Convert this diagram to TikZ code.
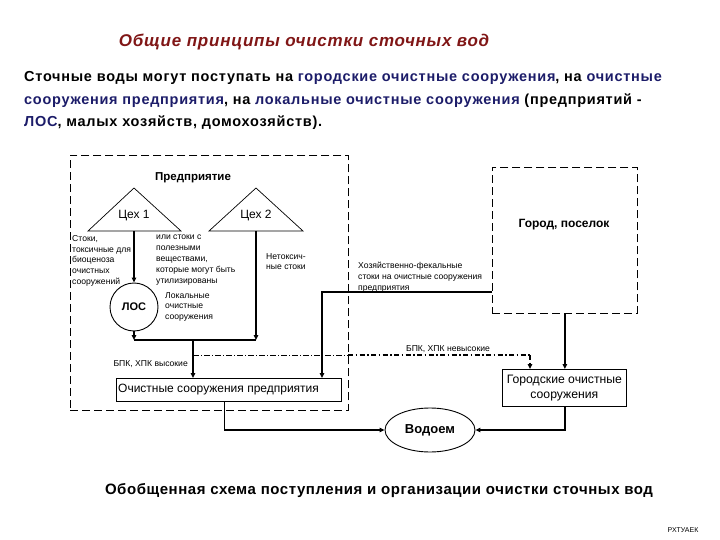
\documentclass[tikz,border=0pt]{standalone}
\usepackage{fontspec}
\setmainfont{Liberation Sans}
\usetikzlibrary{shapes.geometric,arrows.meta}
\definecolor{titlered}{RGB}{128,22,22}
\definecolor{navy}{RGB}{28,28,105}
\begin{document}
\begin{tikzpicture}[x=1pt,y=-1pt,
  small/.style={font=\fontsize{8.6}{10.8}\selectfont, align=left, inner sep=0pt},
  flow/.style={line width=1.6pt, -{Triangle[length=5pt,width=4.5pt]}},
  plain/.style={line width=1.6pt},
  box/.style={draw, line width=0.7pt},
  dashedbox/.style={draw, line width=0.8pt, dash pattern=on 8pt off 4pt, inner sep=0pt},
  label/.style={font=\fontsize{12}{14}\selectfont}]
\useasboundingbox (0,0) rectangle (720,540);

% title and paragraph
\node[font=\bfseries\itshape\fontsize{17}{20}\selectfont\addfontfeature{LetterSpace=4.5}, text=titlered] (title) at (304,42) {Общие принципы очистки сточных вод};
\begin{scope}[every node/.style={anchor=west, inner sep=0pt, font=\bfseries\fontsize{14.5}{17}\selectfont\addfontfeature{LetterSpace=5}}]
\node (p1) at (24,78) {Сточные воды могут поступать на \textcolor{navy}{городские очистные сооружения}, на \textcolor{navy}{очистные}};
\node (p2) at (24,101) {\textcolor{navy}{сооружения предприятия}, на \textcolor{navy}{локальные очистные сооружения} (предприятий -};
\node (p3) at (24,123) {\textcolor{navy}{ЛОС}, малых хозяйств, домохозяйств).};
\end{scope}

% enterprise
\node[dashedbox, anchor=north west, minimum width=278pt, minimum height=255pt] (ent) at (70,155) {};
\node[font=\bfseries\fontsize{11.5}{13}\selectfont] (entl) at (193,178) {Предприятие};
\draw[box] (88,231) -- (134,188) -- (181,231) -- cycle;
\node[label] (ceh1) at (134,216) {Цех 1};
\coordinate (ceh1b) at (134,231);
\draw[box] (209,231) -- (256,188) -- (303,231) -- cycle;
\node[label] (ceh2) at (256,216) {Цех 2};
\coordinate (ceh2b) at (256,231);
\node[draw, circle, line width=0.9pt, minimum size=48pt, inner sep=0pt, font=\bfseries\fontsize{11}{13}\selectfont] (los) at (134,307) {ЛОС};

\node[small, anchor=north west] (t1) at (72,235) {Стоки,\\токсичные для\\биоценоза\\очистных\\сооружений};
\node[small, anchor=north west] (t2) at (156,235) {или стоки с\\полезными\\веществами,\\которые могут быть\\утилизированы};
\node[small, anchor=north west] (t3) at (266,253) {Нетоксич-\\ные стоки};
\node[small, anchor=north west] (t4) at (165,292) {Локальные\\очистные\\сооружения};
\node[small, anchor=north west] (t5) at (358,262) {Хозяйственно-фекальные\\стоки на очистные сооружения\\предприятия};

% city
\node[dashedbox, anchor=north west, minimum width=145pt, minimum height=146pt] (gorod) at (492,167) {};
\node[font=\bfseries\fontsize{12}{14}\selectfont] (gorodl) at (564,225) {Город, поселок};

% treatment boxes
\node[box, anchor=north west, minimum width=225pt, minimum height=23pt, inner sep=0pt] (ocp) at (116,378) {};
\node[font=\fontsize{12}{14}\selectfont, anchor=west, inner sep=0pt] (ocpl) at (118,389.5) {Очистные сооружения предприятия};
\node[box, anchor=north west, minimum width=124pt, minimum height=37pt, inner sep=0pt, align=center, font=\fontsize{12.2}{14.5}\selectfont] (gos) at (502,369) {Городские очистные\\сооружения};
\node[draw, ellipse, line width=0.9pt, minimum width=90pt, minimum height=44pt, inner sep=0pt, font=\bfseries\fontsize{13}{15}\selectfont] (vod) at (430,430) {Водоем};

% connectors
\coordinate (j1) at (134,340);
\coordinate (j2) at (256,340);
\coordinate (jm) at (193,340);
\draw[flow] (ceh1b) -- (los.north);
\draw[flow] (los.south) -- (j1);
\draw[flow] (ceh2b) -- (j2);
\draw[plain] (j1) -- (j2);
\draw[flow] (jm) -- (jm |- ocp.north);
\node[small, anchor=east] (bpk1) at (188,364) {БПК, ХПК высокие};

\coordinate (hf) at (492,292);
\coordinate (hfx) at (322,292);
\draw[flow] (hf) -- (hfx) -- (hfx |- ocp.north);

\coordinate (dd1) at (193,355);
\coordinate (dd2) at (348,355);
\coordinate (dd3) at (530,355);
\draw[line width=0.7pt, dash pattern=on 6pt off 2pt on 1pt off 2pt] (dd1) -- (dd2);
\draw[line width=1.5pt, dash pattern=on 5pt off 2.5pt on 1.5pt off 2.5pt] (dd2) -- (dd3);
\draw[line width=1.5pt, dash pattern=on 5pt off 2.5pt, -{Triangle[length=5pt,width=4.5pt]}] (dd3) -- (dd3 |- gos.north);
\node[small, anchor=south] (bpk2) at (448,353) {БПК, ХПК невысокие};

\draw[flow] (gorod.south) -- (gorod.south |- gos.north);
\draw[flow] ([xshift=-4.5pt]ocp.south) |- (vod.west);
\draw[flow] (gorod.south |- gos.south) |- (vod.east);

% caption
\node[font=\bfseries\fontsize{15}{18}\selectfont\addfontfeature{LetterSpace=3.7}] (cap) at (379,491) {Обобщенная схема поступления и организации очистки сточных вод};
\node[font=\fontsize{7}{8}\selectfont] (sig) at (683,530) {РХТУАЕК};
\end{tikzpicture}
\end{document}
